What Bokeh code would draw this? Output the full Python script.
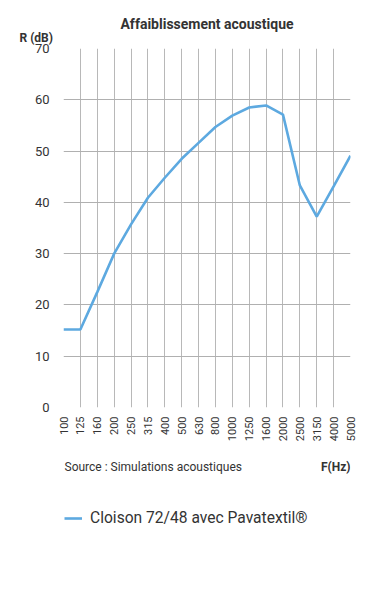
from bokeh.plotting import figure
from bokeh.models import ColumnDataSource, Legend, LegendItem, FixedTicker, Range1d, Title
from bokeh.layouts import column
from bokeh.core.properties import value
from bokeh.embed import file_html
from bokeh.resources import INLINE
from math import pi

freqs = ["100", "125", "160", "200", "250", "315", "400", "500", "630", "800",
         "1000", "1250", "1600", "2000", "2500", "3150", "4000", "5000"]
r_values = [15.2, 15.2, 22.5, 30.0, 35.7, 40.9, 44.8, 48.5, 51.6, 54.7,
            56.9, 58.5, 58.9, 57.1, 43.3, 37.2, 43.1, 49.1]
y_ticks = [0, 10, 20, 30, 40, 50, 60, 70]
series_name = "Cloison 72/48 avec Pavatextil®"
source_note = "Source : Simulations acoustiques"
x_title = "F(Hz)"
y_title = "R (dB)"
chart_title = "Affaiblissement acoustique"

FONT = "Roboto"
TXT = "#333333"
LINE = "#5DA9E0"
idx = list(range(len(freqs)))

# ---------------- main chart ----------------
p = figure(frame_width=287, frame_height=359, output_backend="svg", toolbar_location=None,
           x_range=Range1d(0, len(freqs) - 1), y_range=Range1d(0, 70),
           min_border_left=63, min_border_right=12, min_border_top=48, min_border_bottom=42)
p.outline_line_color = None
p.title = None

src = ColumnDataSource(dict(x=idx, y=r_values))
p.line("x", "y", source=src, line_color=LINE, line_width=2.6)

p.xaxis.ticker = FixedTicker(ticks=idx)
p.xaxis.major_label_overrides = {i: f for i, f in enumerate(freqs)}
p.xaxis.major_label_orientation = pi / 2
p.xaxis.axis_line_color = None
p.xaxis.major_tick_line_color = None
p.xaxis.minor_tick_line_color = None
p.xaxis.major_tick_out = 0
p.xaxis.major_tick_in = 0
p.xaxis.major_label_standoff = 9
p.xaxis.major_label_text_font = FONT
p.xaxis.major_label_text_font_size = "11px"
p.xaxis.major_label_text_color = TXT

p.yaxis.ticker = FixedTicker(ticks=y_ticks)
p.yaxis.axis_line_color = None
p.yaxis.major_tick_line_color = None
p.yaxis.minor_tick_line_color = None
p.yaxis.major_tick_out = 0
p.yaxis.major_tick_in = 0
p.yaxis.major_label_standoff = 14
p.yaxis.major_label_text_font = FONT
p.yaxis.major_label_text_font_size = "13px"
p.yaxis.major_label_text_color = TXT

p.xgrid.grid_line_color = "#b8b8b8"
p.ygrid.grid_line_color = "#b0b0b0"

p.add_layout(Title(text=y_title, align="left", offset=-44, standoff=7,
                   text_font=FONT, text_font_size="12px", text_color=TXT,
                   text_font_style="bold"), "above")
p.add_layout(Title(text=chart_title, align="center", standoff=-13,
                   text_font=FONT, text_font_size="14px", text_color=TXT,
                   text_font_style="bold"), "above")

# ---------------- notes + legend strip (frame aligned with the chart frame) ----------------
H2 = 120
p2 = figure(width=362, height=H2, output_backend="svg", toolbar_location=None,
            x_range=Range1d(0, 287), y_range=Range1d(H2, 0),
            min_border_left=63, min_border_right=12, min_border_top=0, min_border_bottom=0)
p2.outline_line_color = None
p2.axis.visible = False
p2.grid.visible = False
p2.title = None

p2.text(x=[1], y=[17], text=[source_note], text_align="left", text_baseline="middle",
        text_font=value(FONT), text_font_size="12px", text_color=TXT)
p2.text(x=[287], y=[17], text=[x_title], text_align="right", text_baseline="middle",
        text_font=value(FONT), text_font_size="12px", text_color=TXT, text_font_style="bold")

# legend line: the same series on an off-screen range, so only its legend glyph shows here
p2.extra_x_ranges = {"off": Range1d(0, len(freqs) - 1)}
p2.extra_y_ranges = {"off": Range1d(1000, 1070)}
leg_r = p2.line("x", "y", source=src, line_color=LINE, line_width=2.6,
                x_range_name="off", y_range_name="off")
legend = Legend(items=[LegendItem(label=series_name, renderers=[leg_r])],
                location=(1, 41), border_line_color=None, background_fill_alpha=0,
                padding=0, margin=0, glyph_width=18, glyph_height=20, label_height=20,
                label_standoff=8,
                label_text_font=FONT, label_text_font_size="15.6px", label_text_color=TXT)
p2.add_layout(legend)

layout = column(p, p2, spacing=0)
open("out.html", "w").write(file_html(layout, INLINE))
